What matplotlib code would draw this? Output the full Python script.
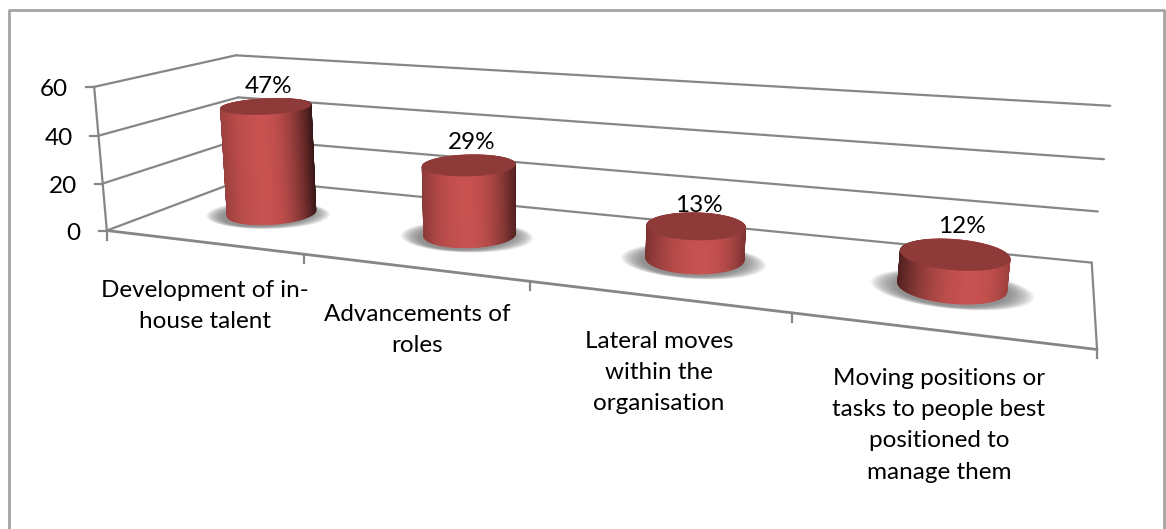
"""Excel style 3D cylinder chart, drawn through a fitted camera projection."""

import matplotlib
matplotlib.use("Agg")
import matplotlib.pyplot as plt
import numpy as np

plt.rcParams["font.family"] = ["Lato", "DejaVu Sans"]

categories = [
    "Development of in-\nhouse talent",
    "Advancements of\nroles",
    "Lateral moves\nwithin the\norganisation",
    "Moving positions or\ntasks to people best\npositioned to\nmanage them",
]
values = [47, 29, 13, 12]
value_labels = ["47%", "29%", "13%", "12%"]
y_ticks = [0, 20, 40, 60]

W, H = 1166, 529
GRID = "#868686"
FRAME = "#a3a3a3"
TOP = "#8e3a39"
BODY = np.array([200, 82, 80]) / 255

# chart box corner -> pixel, used to fit the camera (u along, v depth, z up)
CALIB = [
    ((0, 0, 0), (108, 230)), ((1, 0, 0), (1097, 350)),
    ((0, 1, 0), (242, 180)), ((1, 1, 0), (1092, 262)),
    ((0, 0, 1), (93, 87)), ((0, 1, 1), (237, 55)), ((1, 1, 1), (1110, 106)),
]


def fit_camera(points):
    rows, rhs = [], []
    for (u, v, z), (px, py) in points:
        rows.append([u, v, z, 1, 0, 0, 0, 0, -px * u, -px * v, -px * z])
        rows.append([0, 0, 0, 0, u, v, z, 1, -py * u, -py * v, -py * z])
        rhs += [px, py]
    p = np.linalg.lstsq(np.array(rows, float), np.array(rhs, float), rcond=None)[0]
    return np.append(p, 1).reshape(3, 4)


CAM = fit_camera(CALIB)


def project(u, v, z):
    u, v, z = np.broadcast_arrays(np.asarray(u, float), np.asarray(v, float), np.asarray(z, float))
    pts = CAM @ np.array([u.ravel(), v.ravel(), z.ravel(), np.ones(u.size)])
    return pts[0] / pts[2], pts[1] / pts[2]


def draw_line(ax, a, b, lw=1.6):
    x, y = project([a[0], b[0]], [a[1], b[1]], [a[2], b[2]])
    ax.plot(x, y, color=GRID, lw=lw, solid_capstyle="round", zorder=2)


def draw_box(ax):
    for t in y_ticks:
        z = t / y_ticks[-1]
        draw_line(ax, (0, 0, z), (0, 1, z))
        draw_line(ax, (0, 1, z), (1, 1, z))
        x, y = project(0, 0, z)
        ax.plot([x[0] - 8, x[0]], [y[0], y[0]], color=GRID, lw=1.6, zorder=2)
        ax.text(x[0] - 26, y[0] + 3, str(t), ha="right", va="center", fontsize=FS, color="black")
    draw_line(ax, (0, 0, 0), (0, 0, 1))
    draw_line(ax, (0, 0, 0), (1, 0, 0), lw=2.0)
    draw_line(ax, (1, 0, 0), (1, 1, 0))
    for k in range(len(categories) + 1):
        x, y = project(k / len(categories), 0, 0)
        ax.plot([x[0], x[0]], [y[0], y[0] + 9], color=GRID, lw=1.6, zorder=2)


def shade(t, peak, left_drop, right_drop):
    if t < peak:
        f = 1 - left_drop * ((peak - t) / peak) ** 2
    else:
        f = 1 - right_drop * ((t - peak) / (1 - peak)) ** 2
    return tuple(BODY * f)


def draw_cylinder(ax, i, value):
    n = len(categories)
    uc, vc = (i + 0.5) / n + BAR_SHIFT[i], BAR_V
    z = value / y_ticks[-1]
    th = np.linspace(0, 2 * np.pi, 145)
    cu, cv = uc + R_U * np.cos(th), vc + R_V * np.sin(th)

    # soft shadow: stacked faint ellipses on the floor
    for s in np.linspace(1.5, 1.02, 24):
        sx, sy = project(uc + R_U * s * np.cos(th), vc - 0.03 + R_V * (0.7 + 0.3 * s) * np.sin(th), 0)
        ax.fill(sx, sy, color="#6f6f6f", alpha=0.05, lw=0, zorder=3)

    bx, by = project(cu, cv, 0)
    tx, ty = project(cu, cv, z)
    order = np.argsort(-np.sin(th[:-1]))
    for k in order:
        t = (0.5 * (bx[k] + bx[k + 1]) - bx.min()) / (bx.max() - bx.min())
        c = shade(np.clip(t, 0, 1), PEAK[i], LEFT_DROP[i], RIGHT_DROP[i])
        ax.fill([bx[k], bx[k + 1], tx[k + 1], tx[k]], [by[k], by[k + 1], ty[k + 1], ty[k]],
                facecolor=c, edgecolor=c, lw=0.6, zorder=4)
    ax.fill(tx, ty, facecolor=TOP, edgecolor=TOP, lw=0.4, zorder=5)

    ax.text(0.5 * (tx.min() + tx.max()) + LABEL_DX[i], ty.min() - 1 + LABEL_DY[i], value_labels[i],
            ha="center", va="bottom", fontsize=FS, color="black", zorder=6)


FS = 17.5
R_U, R_V, BAR_V = 0.049, 0.2, 0.5
BAR_SHIFT = [0.002, 0.002, 0.002, 0.001]
PEAK = [0.45, 0.47, 0.58, 0.66]
LEFT_DROP = [0.22, 0.3, 0.38, 0.6]
RIGHT_DROP = [0.72, 0.6, 0.38, 0.22]
LABEL_DX = [3, 3, 3, 7]
LABEL_DY = [0, -1, 4, -1]
LABEL_X = [205, 417, 659, 939]
LABEL_Y = [280, 304, 331, 368]

fig = plt.figure(figsize=(W / 100, H / 100), dpi=100)
ax = fig.add_axes([0, 0, 1, 1])
ax.set_xlim(0, W)
ax.set_ylim(H, 0)
ax.axis("off")

ax.plot([9, 9, 1164, 1164], [H, 10, 10, H], color=FRAME, lw=2, zorder=1)
draw_box(ax)
for i, val in enumerate(values):
    draw_cylinder(ax, i, val)
for cat, lx, ly in zip(categories, LABEL_X, LABEL_Y):
    ax.text(lx, ly, cat, ha="center", va="top", fontsize=FS, linespacing=1.6, color="black")

fig.savefig("out.png", dpi=100)
